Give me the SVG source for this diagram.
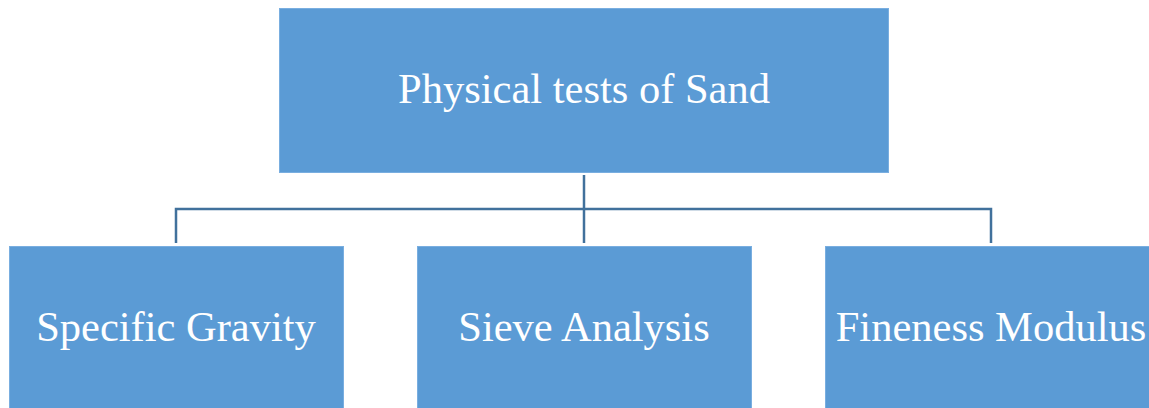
<svg xmlns="http://www.w3.org/2000/svg" width="1149" height="408" viewBox="0 0 1149 408">
<style>
.box{fill:#5b9bd5;stroke:#79aee0;stroke-width:1}
.lbl{font-family:"Liberation Serif","Times New Roman",serif;font-size:42.5px;fill:#ffffff;text-anchor:middle}
.conn{fill:none;stroke:#41719c;stroke-width:2.5}
</style>
<rect width="1149" height="408" fill="#ffffff"/>
<g id="connectors">
<path class="conn" d="M584 175 V243"/>
<path class="conn" d="M176 243 V209 H991 V243"/>
</g>
<g id="root">
<rect class="box" x="279.5" y="8.5" width="609" height="164"/>
<text class="lbl" x="584" y="103">Physical tests of Sand</text>
</g>
<g id="specific-gravity">
<rect class="box" x="9.5" y="246.5" width="334" height="170"/>
<text class="lbl" x="176" y="341">Specific Gravity</text>
</g>
<g id="sieve-analysis">
<rect class="box" x="417.5" y="246.5" width="334" height="170"/>
<text class="lbl" x="584" y="341">Sieve Analysis</text>
</g>
<g id="fineness-modulus">
<rect class="box" x="825.5" y="246.5" width="334" height="170"/>
<text class="lbl" x="991" y="341">Fineness Modulus</text>
</g>
</svg>
